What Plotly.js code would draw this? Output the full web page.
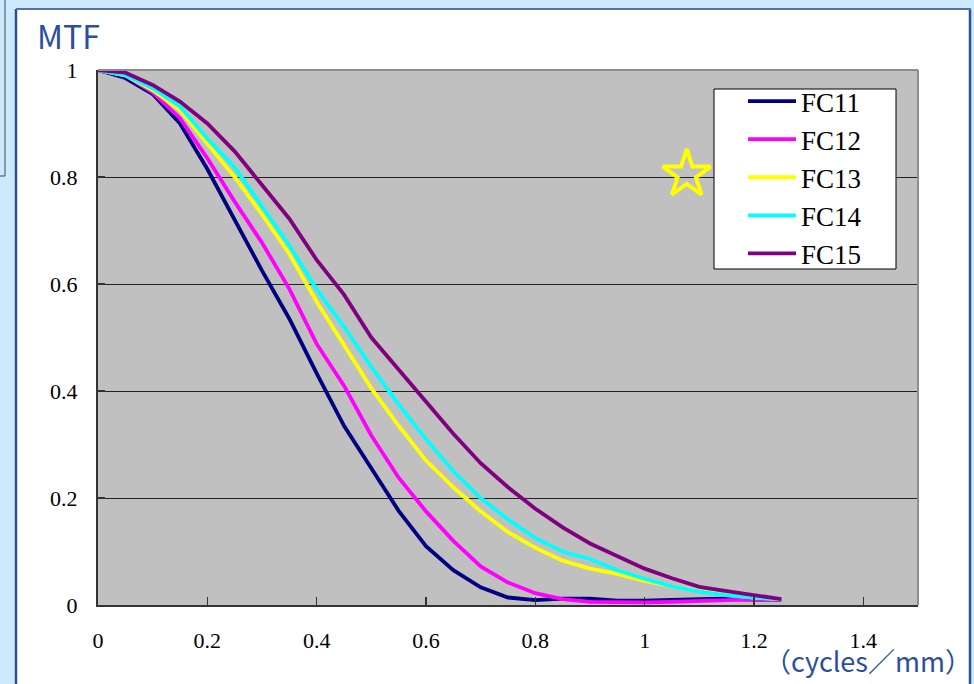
<!DOCTYPE html>
<html>
<head>
<meta charset="utf-8">
<script src="https://cdn.plot.ly/plotly-3.0.1.min.js"></script>
<style>
  html, body { margin: 0; padding: 0; background: #cdeafc; }
  #chart { width: 974px; height: 684px; }
</style>
</head>
<body>
<div id="chart"></div>
<script>
// spatial frequency (cycles/mm)
const freq = [0, 0.05, 0.1, 0.15, 0.2, 0.25, 0.3, 0.35, 0.4, 0.45, 0.5, 0.55, 0.6, 0.65,
              0.7, 0.75, 0.8, 0.85, 0.9, 0.95, 1.0, 1.05, 1.1, 1.15, 1.2, 1.25];

const fc11 = [1, 0.985, 0.955, 0.9, 0.815, 0.72, 0.625, 0.535, 0.433, 0.335, 0.255, 0.176, 0.11, 0.065,
              0.033, 0.014, 0.009, 0.012, 0.012, 0.008, 0.008, 0.01, 0.011, 0.012, 0.01, 0.01];
const fc12 = [1, 0.99, 0.958, 0.91, 0.835, 0.754, 0.677, 0.591, 0.488, 0.41, 0.317, 0.238, 0.175, 0.12,
              0.072, 0.042, 0.022, 0.011, 0.006, 0.005, 0.005, 0.006, 0.008, 0.009, 0.01, 0.01];
const fc13 = [1, 0.99, 0.962, 0.925, 0.862, 0.8, 0.73, 0.656, 0.567, 0.487, 0.405, 0.335, 0.27, 0.22,
              0.175, 0.136, 0.107, 0.083, 0.068, 0.058, 0.045, 0.035, 0.026, 0.019, 0.014, 0.011];
const fc14 = [1, 0.99, 0.966, 0.932, 0.872, 0.818, 0.745, 0.672, 0.59, 0.52, 0.445, 0.375, 0.31, 0.25,
              0.2, 0.16, 0.125, 0.1, 0.086, 0.065, 0.049, 0.035, 0.025, 0.018, 0.014, 0.011];
const fc15 = [1, 0.995, 0.972, 0.941, 0.9, 0.848, 0.785, 0.722, 0.645, 0.58, 0.5, 0.44, 0.38, 0.32,
              0.265, 0.22, 0.18, 0.145, 0.115, 0.092, 0.068, 0.05, 0.034, 0.026, 0.018, 0.011];

const seriesNames = ['FC11', 'FC12', 'FC13', 'FC14', 'FC15'];
const seriesData = [fc11, fc12, fc13, fc14, fc15];
const seriesColors = ['#000080', '#ff00ff', '#ffff00', '#00ffff', '#800080'];

// star marker
const starX = [1.077];
const starY = [0.805];

const xTicks = [0, 0.2, 0.4, 0.6, 0.8, 1, 1.2, 1.4];
const xTickText = ['0', '0.2', '0.4', '0.6', '0.8', '1', '1.2', '1.4'];
const yTicks = [0, 0.2, 0.4, 0.6, 0.8, 1];
const yTickText = ['0', '0.2', '0.4', '0.6', '0.8', '1'];

const traces = [{
  x: starX, y: starY, type: 'scatter', mode: 'markers', showlegend: false, hoverinfo: 'skip',
  marker: { symbol: 'star-open', size: 36, color: '#ffff00', line: { color: '#ffff00', width: 4 } }
}];
seriesNames.forEach((n, i) => {
  traces.push({
    x: freq, y: seriesData[i], type: 'scatter', mode: 'lines', name: n,
    line: { color: seriesColors[i], width: 3.8 }
  });
});

const L = 98, R = 918, T = 70, B = 605;
const W = R - L, H = B - T;
const px = v => (v - L) / W;
const py = v => (B - v) / H;

const blue = '#2b4f9e';
const serif = 'Liberation Serif, Times New Roman, serif';

const layout = {
  width: 974, height: 684,
  margin: { l: L, r: 974 - R, t: T, b: 684 - B, pad: 0 },
  paper_bgcolor: '#cdeafc',
  plot_bgcolor: '#c0c0c0',
  showlegend: true,
  legend: {
    x: px(743), y: py(77), xanchor: 'left', yanchor: 'top',
    bgcolor: 'rgba(0,0,0,0)', borderwidth: 0,
    font: { family: serif, size: 27, color: '#000' },
    itemwidth: 48, tracegroupgap: 0
  },
  xaxis: {
    range: [0, 1.5], tickvals: xTicks, ticktext: xTickText,
    showgrid: false, zeroline: false,
    showline: true, linecolor: '#333333', linewidth: 2,
    ticks: 'inside', ticklen: 8, tickcolor: '#333333', tickwidth: 1.5,
    ticklabelstandoff: 15,
    tickfont: { family: serif, size: 22, color: '#000' },
    fixedrange: true
  },
  yaxis: {
    range: [0, 1], tickvals: yTicks, ticktext: yTickText,
    showgrid: true, gridcolor: '#222222', gridwidth: 1,
    zeroline: false,
    showline: true, linecolor: '#333333', linewidth: 2,
    ticks: 'inside', ticklen: 7, tickcolor: '#333333', tickwidth: 2,
    ticklabelstandoff: 14,
    tickfont: { family: serif, size: 22, color: '#000' },
    fixedrange: true
  },
  shapes: [
    // white panel
    { type: 'rect', xref: 'paper', yref: 'paper', layer: 'below',
      x0: px(16), x1: px(970), y0: py(700), y1: py(9),
      fillcolor: '#ffffff', line: { width: 0 } },
    // plot area fill
    { type: 'rect', xref: 'paper', yref: 'paper', layer: 'below',
      x0: 0, x1: 1, y0: 0, y1: 1, fillcolor: '#c0c0c0', line: { width: 0 } },
    // panel borders
    { type: 'line', xref: 'paper', yref: 'paper', layer: 'above',
      x0: px(16), x1: px(16), y0: py(700), y1: py(9), line: { color: blue, width: 2.5 } },
    { type: 'line', xref: 'paper', yref: 'paper', layer: 'above',
      x0: px(970), x1: px(970), y0: py(700), y1: py(9), line: { color: blue, width: 2.5 } },
    { type: 'line', xref: 'paper', yref: 'paper', layer: 'above',
      x0: px(16), x1: px(971), y0: py(9), y1: py(9), line: { color: '#5a6fa5', width: 2 } },
    // small frame behind at left
    { type: 'line', xref: 'paper', yref: 'paper', layer: 'above',
      x0: px(5), x1: px(5), y0: py(176), y1: py(-2), line: { color: '#3c4a66', width: 1 } },
    { type: 'line', xref: 'paper', yref: 'paper', layer: 'above',
      x0: px(-2), x1: px(5), y0: py(176), y1: py(176), line: { color: '#3c4a66', width: 1 } },
    // plot area top/right gray border
    { type: 'line', xref: 'paper', yref: 'paper', layer: 'above',
      x0: 0, x1: 1, y0: 1, y1: 1, line: { color: '#8c8c8c', width: 2 } },
    { type: 'line', xref: 'paper', yref: 'paper', layer: 'above',
      x0: 1, x1: 1, y0: 0, y1: 1, line: { color: '#8c8c8c', width: 2 } },
    // legend box
    { type: 'rect', xref: 'paper', yref: 'paper', layer: 'above',
      x0: px(714), x1: px(896), y0: py(269), y1: py(89),
      fillcolor: '#ffffff', line: { color: '#000000', width: 1 } }
  ],
  annotations: [
    { text: 'MTF', xref: 'paper', yref: 'paper', x: px(35), y: py(35),
      xanchor: 'left', yanchor: 'middle', showarrow: false,
      font: { family: 'Noto Sans CJK JP, Noto Sans, sans-serif', size: 32, color: blue } },
    { text: '（cycles／mm）', xref: 'paper', yref: 'paper', x: px(762), y: py(660),
      xanchor: 'left', yanchor: 'middle', showarrow: false,
      font: { family: 'Noto Sans CJK JP, Noto Sans, sans-serif', size: 27, color: blue } }
  ]
};

Plotly.newPlot('chart', traces, layout, { displayModeBar: false, staticPlot: true });
</script>
</body>
</html>
